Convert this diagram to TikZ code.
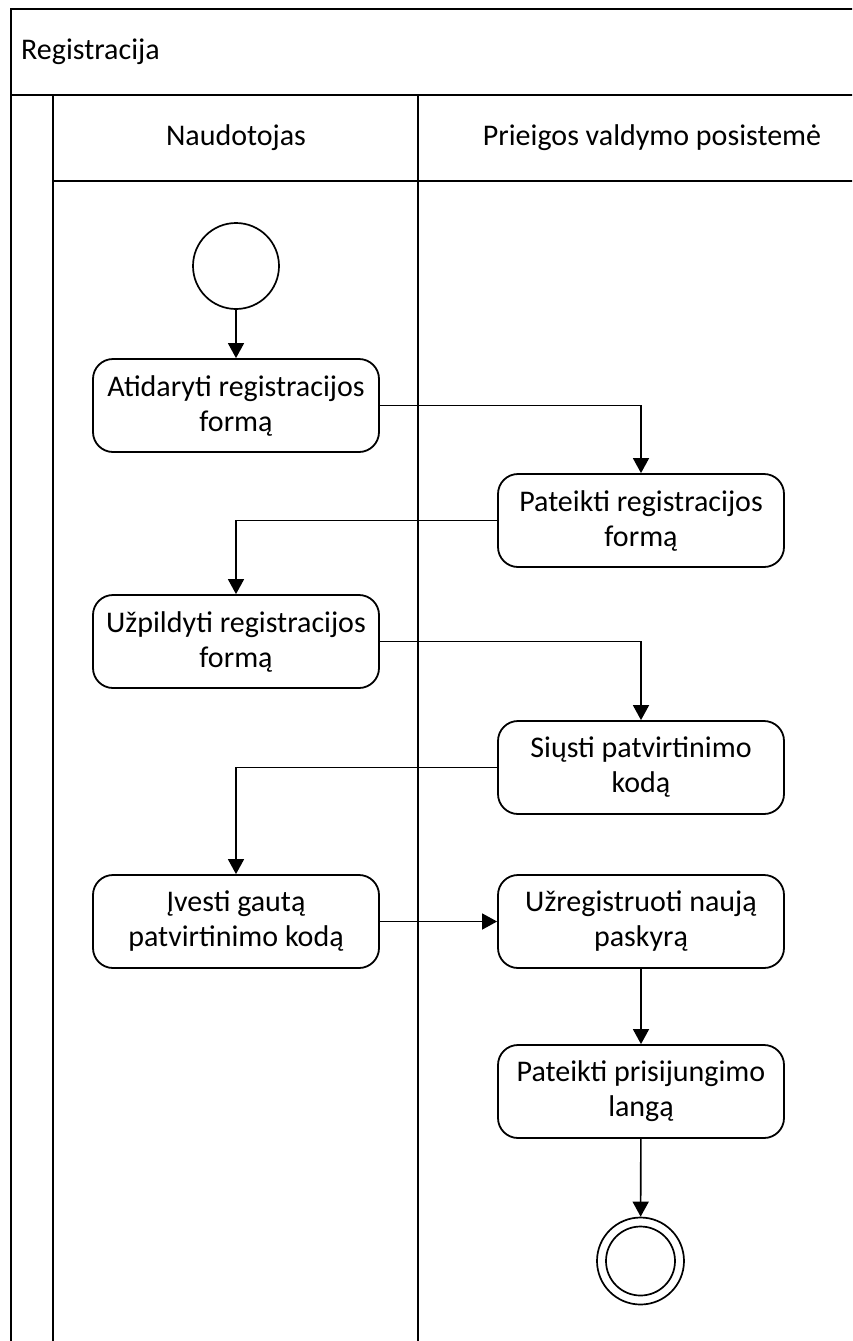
\documentclass[tikz,border=0pt]{standalone}
\usepackage{fontspec}
\setmainfont{Carlito}
\usetikzlibrary{arrows.meta}
\begin{document}
\begin{tikzpicture}[x=1pt,y=-1pt,
  frame/.style={line width=2.4pt},
  action/.style={draw,line width=1.8pt,rectangle,rounded corners=20pt,
    minimum width=286pt,minimum height=93pt,align=center,
    font=\fontsize{30}{35}\selectfont},
  label/.style={font=\fontsize{30}{35}\selectfont,inner sep=0pt},
  flow/.style={line width=1.6pt,-{Triangle[width=16pt,length=15pt]}},
  initial/.style={draw,circle,line width=1.7pt,minimum size=86pt,inner sep=0pt},
  final/.style={draw,circle,line width=1.7pt,minimum size=87pt,inner sep=0pt}
]
\useasboundingbox (0,0) rectangle (852,1341);
\begin{scope}
\clip (0,0) rectangle (852,1341);
% pool and lanes
\draw[frame] (11,1400) -- (11,9) -- (900,9);
\draw[frame] (11,95) -- (900,95);
\draw[frame] (53,95) -- (53,1400);
\draw[frame] (53,181) -- (900,181);
\draw[frame] (418,95) -- (418,1400);
\end{scope}
\node[label,anchor=west] (pool) at (21,52) {Registracija};
\node[label] (lane1) at (236,138) {Naudotojas};
\node[label] (lane2) at (652,138) {Prieigos valdymo posistemė};

% activities
\node[initial] (start) at (236,266) {};
\node[action] (a1) at (236,405.5) {Atidaryti registracijos\\formą};
\node[action] (a2) at (641,520.5) {Pateikti registracijos\\formą};
\node[action] (a3) at (236,641.5) {Užpildyti registracijos\\formą};
\node[action] (a4) at (641,767.5) {Siųsti patvirtinimo\\kodą};
\node[action] (a5) at (236,921.5) {Įvesti gautą\\patvirtinimo kodą};
\node[action] (a6) at (641,921.5) {Užregistruoti naują\\paskyrą};
\node[action] (a7) at (641,1091.5) {Pateikti prisijungimo\\langą};
\node[final] (end) at (640.5,1261) {};
\draw[line width=1.7pt] (end.center) circle (34.5);

% control flow
\draw[flow] (start) -- (a1);
\draw[flow] (a1.east) -| (a2.north);
\draw[flow] (a2.west) -| (a3.north);
\draw[flow] (a3.east) -| (a4.north);
\draw[flow] (a4.west) -| (a5.north);
\draw[flow] (a5) -- (a6);
\draw[flow] (a6) -- (a7);
\draw[flow] (a7) -- (end);
\end{tikzpicture}
\end{document}
